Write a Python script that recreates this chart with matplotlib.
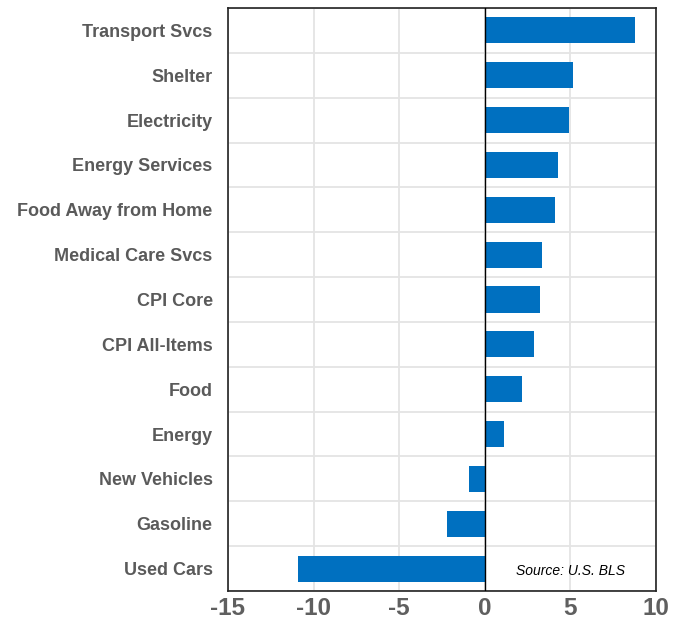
import matplotlib
matplotlib.use("Agg")
import matplotlib.pyplot as plt
import numpy as np

categories = ["Transport Svcs", "Shelter", "Electricity", "Energy Services",
              "Food Away from Home", "Medical Care Svcs", "CPI Core",
              "CPI All-Items", "Food", "Energy", "New Vehicles", "Gasoline",
              "Used Cars"]
values = [8.8, 5.15, 4.9, 4.25, 4.1, 3.35, 3.2, 2.9, 2.2, 1.1, -0.95, -2.2, -10.9]
xticks = [-15, -10, -5, 0, 5, 10]

plt.rcParams['font.family'] = ['Liberation Sans', 'DejaVu Sans']
fig = plt.figure(figsize=(6.79, 6.22), dpi=100)
ax = fig.add_axes([228/679, 1 - 591/622, (656-228)/679, (591-8)/622])

y = np.arange(len(categories))
ax.barh(y, values, height=0.58, color='#0070C0', zorder=3)
ax.set_ylim(len(categories) - 0.5, -0.5)
ax.set_xlim(-15, 10)
ax.set_xticks(xticks)
ax.set_xticklabels([str(t) for t in xticks], fontsize=17.5, fontweight='bold', color='#5f5f5f')
ax.set_yticks(y)
ax.set_yticklabels(categories, fontsize=13, fontweight='bold', color='#5a5a5a')
ax.set_yticks(np.arange(len(categories) + 1) - 0.5, minor=True)
ax.tick_params(axis='y', which='both', length=0, pad=11)
ax.tick_params(axis='x', length=0, pad=4)
ax.grid(axis='y', which='minor', color='#e4e4e4', linewidth=1.3, zorder=0)
ax.grid(axis='x', which='major', color='#e4e4e4', linewidth=1.3, zorder=0)
ax.axvline(0, color='black', linewidth=1.0, zorder=4)
for s in ax.spines.values():
    s.set_linewidth(1.2)
    s.set_color('#222222')
ax.text(5, 12.05, "Source: U.S. BLS", fontsize=10, style='italic', ha='center', va='center', color='black', zorder=5)
fig.savefig("out.png", dpi=100)
